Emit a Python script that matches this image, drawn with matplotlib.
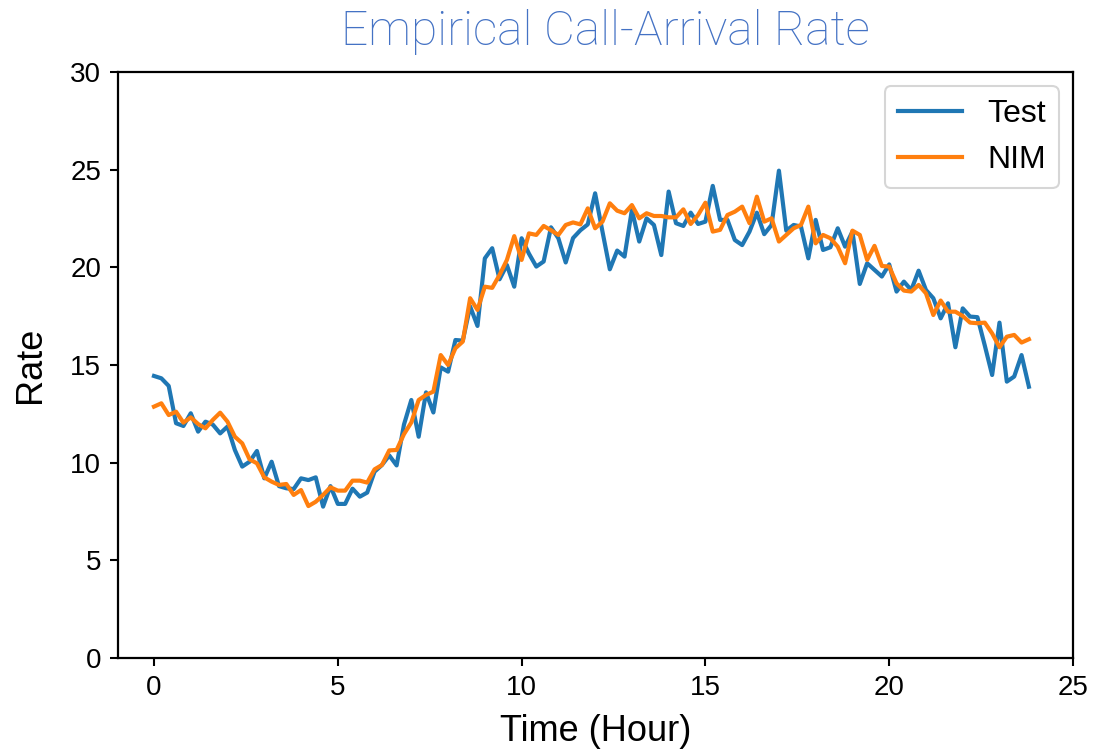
import numpy as np
import matplotlib
matplotlib.use("Agg")
import matplotlib.pyplot as plt

plt.rcParams['font.family'] = ['Liberation Sans', 'DejaVu Sans']

# time in hours, one sample every 12 minutes
time = np.arange(120) * 0.2

test_rate = [14.44, 14.32, 13.93, 12.02, 11.88, 12.53, 11.59, 12.10, 11.95, 11.50,
             11.85, 10.65, 9.80, 10.05, 10.60, 9.20, 10.05, 8.80, 8.69, 8.65,
             9.20, 9.11, 9.25, 7.75, 8.80, 7.89, 7.89, 8.67, 8.26, 8.47,
             9.54, 9.88, 10.37, 9.86, 11.95, 13.21, 11.33, 13.60, 12.57, 14.88,
             14.66, 16.28, 16.25, 18.00, 17.00, 20.46, 20.98, 19.39, 20.12, 19.01,
             21.49, 20.70, 20.04, 20.30, 22.05, 21.49, 20.25, 21.50, 21.90, 22.20,
             23.79, 21.83, 19.90, 20.86, 20.55, 22.94, 21.32, 22.51, 22.17, 20.63,
             23.88, 22.26, 22.12, 22.80, 22.22, 22.34, 24.17, 22.43, 22.43, 21.40,
             21.14, 21.83, 22.80, 21.70, 22.17, 24.95, 21.88, 22.17, 22.09, 20.46,
             22.43, 20.89, 21.03, 22.00, 21.06, 21.83, 19.15, 20.21, 19.87, 19.53,
             20.15, 18.76, 19.27, 18.84, 19.83, 18.84, 18.42, 17.39, 18.16, 15.91,
             17.90, 17.48, 17.45, 16.00, 14.49, 17.17, 14.15, 14.41, 15.51, 13.89]

nim_rate = [12.87, 13.04, 12.44, 12.61, 12.05, 12.32, 11.98, 11.76, 12.19, 12.56,
            12.10, 11.33, 10.99, 10.17, 9.97, 9.25, 9.03, 8.86, 8.91, 8.35,
            8.60, 7.78, 8.00, 8.35, 8.74, 8.57, 8.57, 9.08, 9.08, 8.98,
            9.66, 9.88, 10.63, 10.65, 11.46, 12.06, 13.21, 13.47, 13.64, 15.51,
            15.00, 15.86, 16.20, 18.42, 17.82, 19.01, 18.95, 19.61, 20.38, 21.60,
            20.38, 21.74, 21.66, 22.12, 21.90, 21.66, 22.17, 22.30, 22.20, 23.02,
            22.00, 22.34, 23.28, 22.90, 22.77, 23.19, 22.51, 22.77, 22.63, 22.63,
            22.56, 22.56, 22.97, 22.22, 22.68, 23.31, 21.83, 21.92, 22.68, 22.85,
            23.11, 22.26, 23.62, 22.34, 22.51, 21.32, 21.66, 22.00, 22.17, 23.11,
            21.23, 21.66, 21.49, 21.06, 20.21, 21.88, 21.66, 20.38, 21.10, 20.07,
            20.04, 19.18, 18.81, 18.76, 19.10, 18.67, 17.56, 18.30, 17.73, 17.73,
            17.51, 17.17, 17.14, 17.17, 16.62, 15.91, 16.45, 16.54, 16.15, 16.32]

x_ticks = [0, 5, 10, 15, 20, 25]
y_ticks = [0, 5, 10, 15, 20, 25, 30]

fig = plt.figure(figsize=(11.14, 7.51), dpi=100)
ax = fig.add_axes([0.1059, 0.1238, 0.8573, 0.7803])

ax.plot(time, test_rate, color='#1f77b4', lw=3, label='Test')
ax.plot(time, nim_rate, color='#ff7f0e', lw=3, label='NIM')

ax.set_xlim(-0.98, 25)
ax.set_ylim(0, 30)
ax.set_xticks(x_ticks)
ax.set_yticks(y_ticks)
ax.tick_params(labelsize=20, length=6, width=1.5, pad=6)
for s in ax.spines.values():
    s.set_linewidth(1.6)

ax.set_xlabel('Time (Hour)', fontsize=26)
ax.set_ylabel('Rate', fontsize=26)
ax.xaxis.set_label_coords(0.5, -0.095)
ax.yaxis.set_label_coords(-0.073, 0.5)

leg = ax.legend(loc='upper right', fontsize=23, handlelength=2.0,
                borderaxespad=0.45, framealpha=0.8)
leg.get_frame().set_linewidth(1.5)

fig.text(605 / 1114, 1 - 45 / 751, 'Empirical Call-Arrival Rate',
         ha='center', va='baseline', fontsize=34.5, color='#4472C4',
         family=['Roboto', 'DejaVu Sans'], fontweight='light')

fig.savefig('out.png', dpi=100)
